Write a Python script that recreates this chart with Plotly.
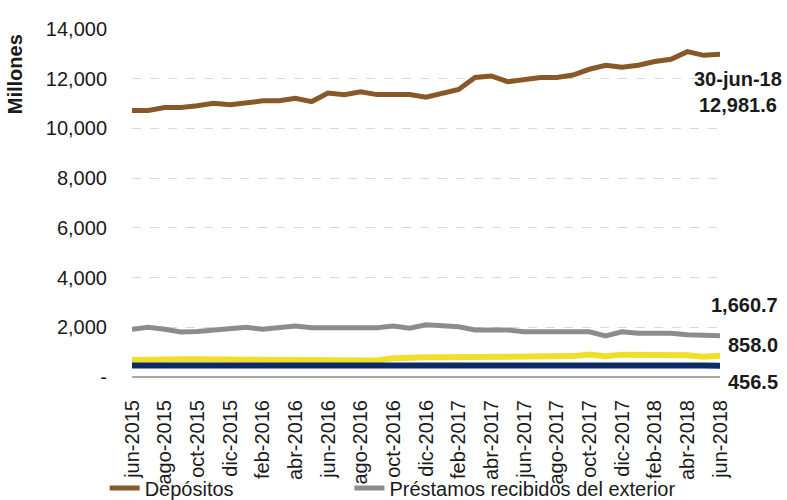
"""Depósitos y préstamos recibidos del exterior — Plotly"""
import plotly.graph_objects as go

# meses jun-2015 .. jun-2018
meses = ["ene", "feb", "mar", "abr", "may", "jun", "jul", "ago", "sep", "oct", "nov", "dic"]
fechas = [f"{meses[(5 + i) % 12]}-{2015 + (5 + i) // 12}" for i in range(37)]

depositos = [
    10720, 10720, 10840, 10840, 10910, 11010, 10950, 11010, 11110, 11110,
    11210, 11080, 11420, 11360, 11470, 11360, 11360, 11360, 11260, 11440,
    11570, 12050, 12110, 11880, 11950, 12050, 12050, 12150, 12380, 12540,
    12460, 12540, 12690, 12780, 13090, 12940, 12981.6,
]
prestamos = [
    1920, 2000, 1920, 1810, 1830, 1900, 1960, 2000, 1920, 1980,
    2050, 1980, 1980, 1980, 1980, 1980, 2050, 1960, 2100, 2080,
    2020, 1890, 1890, 1890, 1820, 1820, 1820, 1820, 1820, 1650,
    1820, 1760, 1760, 1760, 1700, 1700, 1660.7,
]
serie_amarilla = [
    680, 710, 710, 710, 710, 710, 710, 710, 710, 710,
    710, 710, 710, 710, 710, 660, 750, 790, 790, 790,
    790, 820, 840, 840, 840, 840, 840, 840, 900, 840,
    900, 900, 900, 900, 870, 820, 858.0,
]
serie_azul = [
    460, 460, 460, 460, 460, 460, 460, 460, 460, 460,
    460, 460, 460, 460, 460, 460, 520, 520, 520, 520,
    520, 520, 520, 520, 520, 520, 520, 520, 520, 520,
    520, 520, 520, 460, 460, 460, 456.5,
]

y_ticks = [0, 2000, 4000, 6000, 8000, 10000, 12000, 14000]
y_ticktext = ["-"] + [f"{v:,}" for v in y_ticks[1:]]

FONT = "Liberation Sans, Arial, sans-serif"
TXT = "#1a1a1a"

fig = go.Figure()

fig.add_trace(go.Scatter(x=fechas, y=depositos, mode="lines", name="Depósitos",
                         line=dict(color="#875928", width=5), legend="legend"))
fig.add_trace(go.Scatter(x=fechas, y=prestamos, mode="lines",
                         name="Préstamos recibidos del exterior",
                         line=dict(color="#8A8D8F", width=5), legend="legend2"))
fig.add_trace(go.Scatter(x=fechas, y=serie_amarilla, mode="lines", showlegend=False,
                         line=dict(color="#F0DF2A", width=6)))
fig.add_trace(go.Scatter(x=fechas, y=serie_azul, mode="lines", showlegend=False,
                         line=dict(color="#0C2A63", width=6)))

# etiquetas del último dato
ult = fechas[-1]
ann_font = dict(family=FONT, size=20, color=TXT, weight="bold")
fig.add_annotation(x=ult, y=depositos[-1], text=f"30-jun-18<br>{depositos[-1]:,.1f}",
                   showarrow=False, xanchor="center", yanchor="top", xshift=18, yshift=-12,
                   font=ann_font)
fig.add_annotation(x=ult, y=prestamos[-1], text=f"{prestamos[-1]:,.1f}",
                   showarrow=False, xanchor="right", yanchor="middle", xshift=60, yshift=31,
                   font=ann_font)
fig.add_annotation(x=ult, y=serie_amarilla[-1], text=f"{serie_amarilla[-1]:,.1f}",
                   showarrow=False, xanchor="right", yanchor="middle", xshift=60, yshift=11,
                   font=ann_font)
fig.add_annotation(x=ult, y=serie_azul[-1], text=f"{serie_azul[-1]:,.1f}",
                   showarrow=False, xanchor="right", yanchor="middle", xshift=60, yshift=-16,
                   font=ann_font)

# título del eje Y arriba a la izquierda
fig.add_annotation(xref="paper", yref="paper", x=-0.199, y=0.87, text="Millones",
                   textangle=-90, showarrow=False, xanchor="center", yanchor="middle",
                   font=dict(family=FONT, size=20, color=TXT, weight="bold"))

leg_common = dict(orientation="h", xref="container", yref="container",
                  y=0.024, xanchor="left", yanchor="middle",
                  font=dict(family=FONT, size=20, color=TXT),
                  itemwidth=30, bgcolor="rgba(0,0,0,0)")

fig.update_layout(
    width=787, height=500,
    margin=dict(l=132, r=67, t=29, b=123, autoexpand=False),
    plot_bgcolor="white", paper_bgcolor="white",
    font=dict(family=FONT, color=TXT),
    showlegend=True,
    legend=dict(x=0.133, **leg_common),
    legend2=dict(x=0.444, **leg_common),
    xaxis=dict(
        type="category", range=[0, len(fechas) - 1],
        tickvals=fechas[::2], ticktext=fechas[::2], tickangle=-90,
        tickfont=dict(family=FONT, size=20, color=TXT),
        showgrid=False, zeroline=False, showline=False, ticks="",
        ticklabelstandoff=18,
    ),
    yaxis=dict(
        range=[0, 14000], tickvals=y_ticks, ticktext=y_ticktext,
        tickfont=dict(family=FONT, size=20, color=TXT),
        showgrid=True, gridcolor="#D9D9D9", griddash="dash", gridwidth=1,
        zeroline=True, zerolinecolor="#A6A6A6", zerolinewidth=2,
        showline=False, ticks="", ticklabelstandoff=24,
    ),
)

fig.write_html("out.html", config={"displayModeBar": False},
               post_script="document.body.style.margin = '0';")
